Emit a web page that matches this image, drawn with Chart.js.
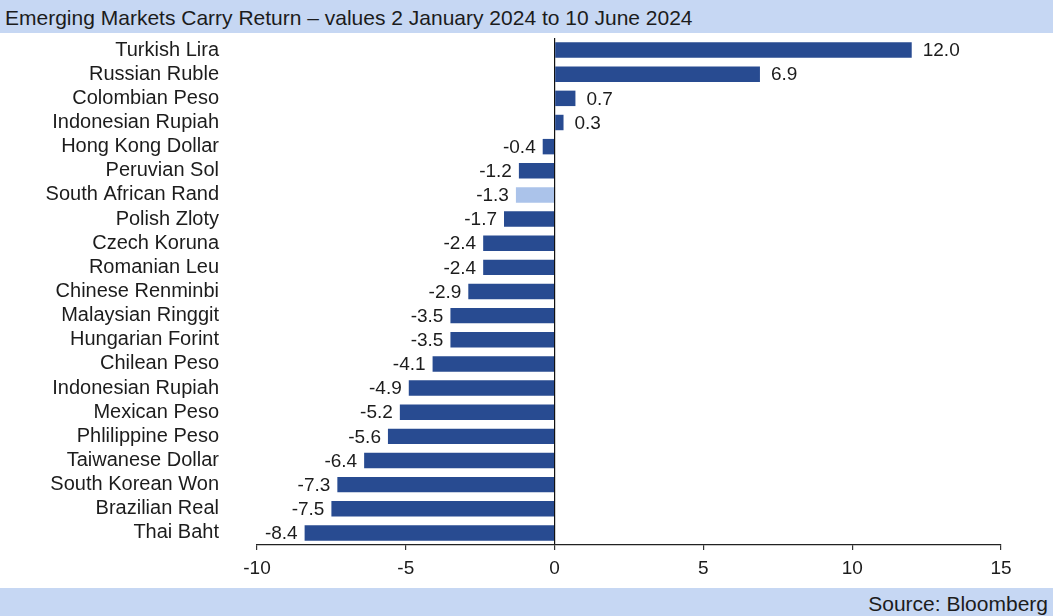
<!DOCTYPE html>
<html>
<head>
<meta charset="utf-8">
<script src="https://cdn.jsdelivr.net/npm/chart.js@4"></script>
<style>
  html, body { margin: 0; padding: 0; background: #fff; }
  body { width: 1053px; height: 616px; overflow: hidden; font-family: "Liberation Sans", Arial, sans-serif; }
  #title { height: 33px; background: #c6d7f3; color: #1c1c1c; font-size: 21px; line-height: 35px; padding-left: 5px; box-sizing: border-box; white-space: nowrap; }
  #wrap { position: relative; width: 1053px; height: 555px; }
  #footer { height: 28px; background: #c6d7f3; color: #1c1c1c; font-size: 21px; line-height: 32px; text-align: right; padding-right: 5px; box-sizing: border-box; white-space: nowrap; }
</style>
</head>
<body>
<div id="title">Emerging Markets Carry Return – values 2 January 2024 to 10 June 2024</div>
<div id="wrap"><canvas id="chart" width="1053" height="555"></canvas></div>
<div id="footer">Source: Bloomberg</div>
<script>
// Currencies, top to bottom
const currencies = [
  "Turkish Lira", "Russian Ruble", "Colombian Peso", "Indonesian Rupiah", "Hong Kong Dollar",
  "Peruvian Sol", "South African Rand", "Polish Zloty", "Czech Koruna", "Romanian Leu",
  "Chinese Renminbi", "Malaysian Ringgit", "Hungarian Forint", "Chilean Peso", "Indonesian Rupiah",
  "Mexican Peso", "Phlilippine Peso", "Taiwanese Dollar", "South Korean Won", "Brazilian Real", "Thai Baht"
];
// Carry return, %
const carryReturn = [12.0, 6.9, 0.7, 0.3, -0.4, -1.2, -1.3, -1.7, -2.4, -2.4, -2.9, -3.5, -3.5, -4.1, -4.9, -5.2, -5.6, -6.4, -7.3, -7.5, -8.4];
// Row drawn in the lighter shade
const highlightedRow = 6;
const xTicks = [-10, -5, 0, 5, 10, 15];

const darkBlue = "#284b91";
const lightBlue = "#abc3ea";
const textColor = "#1c1c1c";
const fontFamily = '"Liberation Sans", Arial, sans-serif';

// Value labels at the end of each bar
const valueLabels = {
  id: "valueLabels",
  afterDatasetsDraw(chart) {
    const ctx = chart.ctx;
    const meta = chart.getDatasetMeta(0);
    ctx.save();
    ctx.font = "19px " + fontFamily;
    ctx.fillStyle = textColor;
    ctx.textBaseline = "middle";
    meta.data.forEach((bar, i) => {
      const v = carryReturn[i];
      const txt = v.toFixed(1);
      if (v >= 0) {
        ctx.textAlign = "left";
        ctx.fillText(txt, bar.x + 11, bar.y + 1);
      } else {
        ctx.textAlign = "right";
        ctx.fillText(txt, bar.x - 7, bar.y + 1);
      }
    });
    ctx.restore();
  }
};

new Chart(document.getElementById("chart"), {
  type: "bar",
  data: {
    labels: currencies,
    datasets: [{
      data: carryReturn,
      backgroundColor: currencies.map((c, i) => i === highlightedRow ? lightBlue : darkBlue),
      borderWidth: 0,
      categoryPercentage: 1,
      barPercentage: 0.64
    }]
  },
  options: {
    indexAxis: "y",
    responsive: false,
    animation: false,
    layout: { padding: { top: 5, right: 52, bottom: 0, left: 0 } },
    plugins: { legend: { display: false }, tooltip: { enabled: false } },
    scales: {
      x: {
        min: -10, max: 15,
        afterBuildTicks(scale) { scale.ticks = xTicks.map(v => ({ value: v })); },
        afterFit(scale) { scale.height = 43; scale.paddingLeft = 0; scale.paddingRight = 0; },
        border: { display: true, color: "#222", width: 1.2 },
        grid: {
          drawOnChartArea: true,
          color: c => (c.tick && c.tick.value === 0) ? "#111" : "rgba(0,0,0,0)",
          lineWidth: 1.2,
          tickColor: "#333",
          tickLength: 5
        },
        ticks: { color: textColor, font: { family: fontFamily, size: 19 }, padding: 7 }
      },
      y: {
        afterFit(scale) { scale.width = 257; scale.paddingTop = 0; scale.paddingBottom = 0; },
        border: { display: false },
        grid: { display: false, drawTicks: false },
        ticks: { color: textColor, font: { family: fontFamily, size: 20 }, padding: 38, autoSkip: false }
      }
    }
  },
  plugins: [valueLabels]
});
</script>
</body>
</html>
